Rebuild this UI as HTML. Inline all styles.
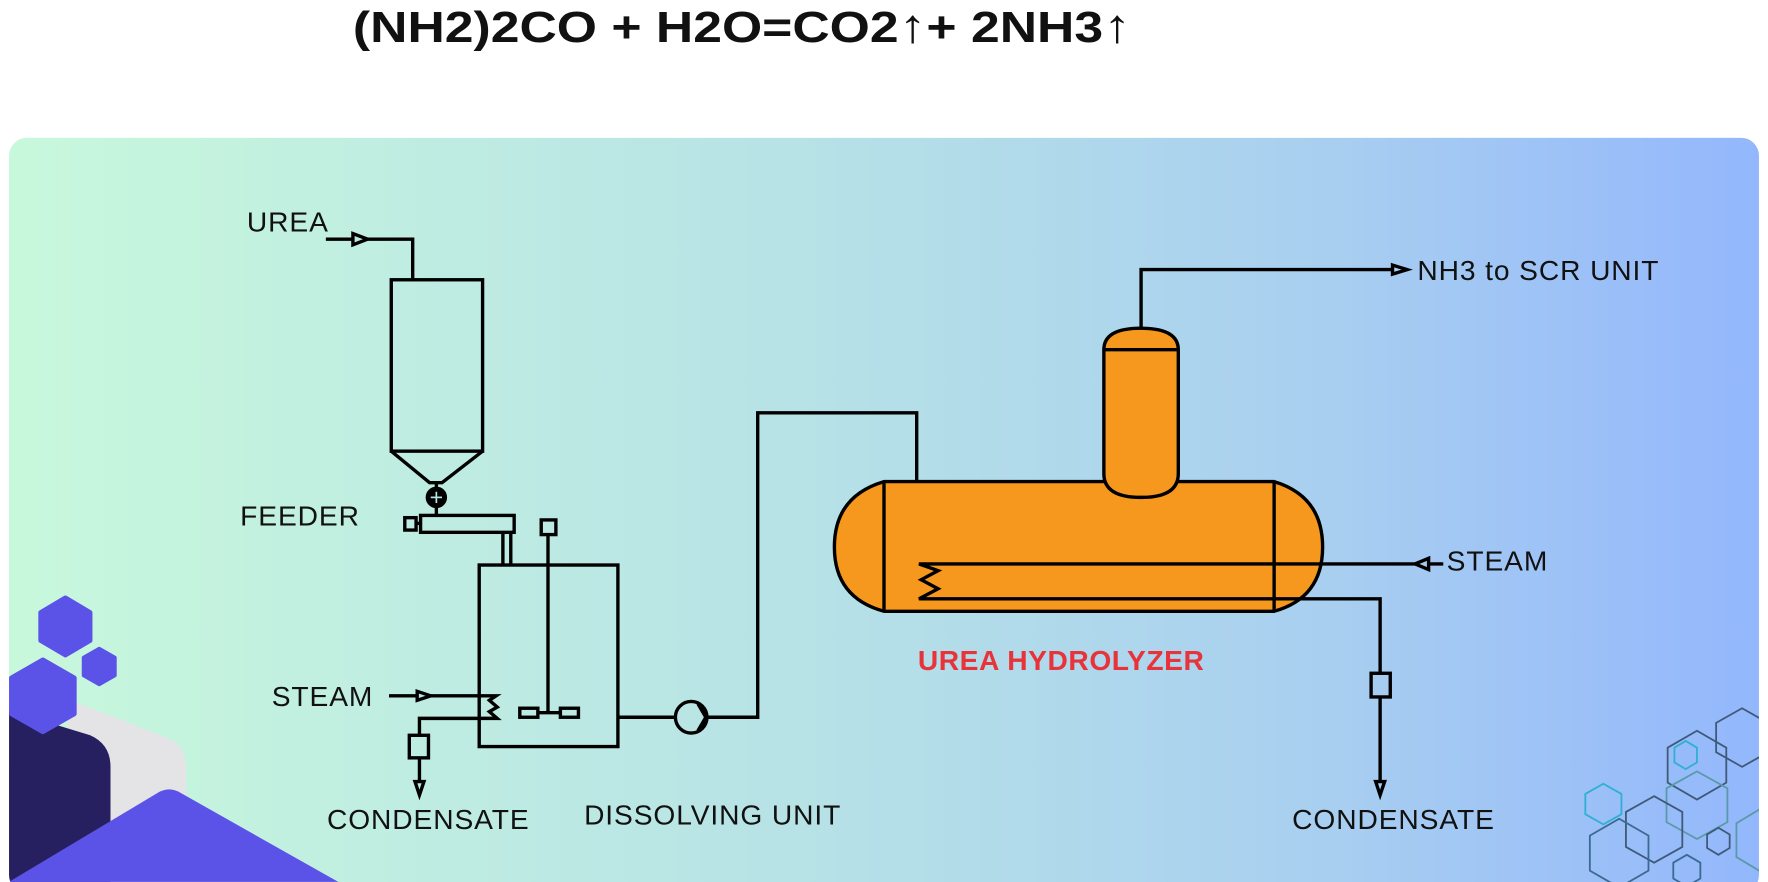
<!DOCTYPE html>
<html><head><meta charset="utf-8"><style>
html,body{margin:0;padding:0;background:#fff;}
svg{display:block;}
text{font-family:"Liberation Sans",sans-serif;}
</style></head><body>
<svg width="1768" height="882" viewBox="0 0 1568 782" xmlns="http://www.w3.org/2000/svg">
<defs>
<linearGradient id="bg" x1="0" x2="1" y1="0" y2="0">
<stop offset="0" stop-color="#c8f8dc"/>
<stop offset="0.45" stop-color="#b7e2e6"/>
<stop offset="0.75" stop-color="#a9cff0"/>
<stop offset="1" stop-color="#93b7fc"/>
</linearGradient>
<clipPath id="pc"><rect x="8" y="122" width="1552" height="670" rx="16"/></clipPath>
</defs>
<rect width="1568" height="782" fill="#fff"/>
<text x="313" y="37" font-size="39" font-weight="bold" fill="#111" textLength="690" lengthAdjust="spacingAndGlyphs">(NH2)2CO + H2O=CO2<tspan font-size="42" font-weight="normal">↑</tspan>+ 2NH3<tspan font-size="42" font-weight="normal">↑</tspan></text>
<g clip-path="url(#pc)">
<rect x="8" y="122" width="1552" height="670" fill="url(#bg)"/>
<path d="M60,620 L150,655 Q165,662 165,680 L165,782 L60,782 Z" fill="#e4e4e6"/>
<path d="M8,630 L80,652 Q98,660 98,680 L98,782 L8,782 Z" fill="#272060"/>
<path d="M8,782 L140,703 Q150,697 160,703 L300,782 Z" fill="#5b52e8"/>
<polygon points="58,530 80,543 80,568 58,581 36,568 36,543" fill="#5b52e8" stroke="#5b52e8" stroke-width="4" stroke-linejoin="round"/>
<polygon points="88,575 102,583 102,599 88,607 74,599 74,583" fill="#5b52e8" stroke="#5b52e8" stroke-width="3" stroke-linejoin="round"/>
<polygon points="38,585 66,601 66,633 38,649 10,633 10,601" fill="#5b52e8" stroke="#5b52e8" stroke-width="4" stroke-linejoin="round"/>
<g fill="none" stroke-width="1.6">
<polygon points="1545,628 1568,641 1568,667 1545,680 1522,667 1522,641" stroke="#3f5a78"/>
<polygon points="1505,648 1531,663 1531,694 1505,709 1479,694 1479,663" stroke="#3f5a78"/>
<polygon points="1495,657 1505,663 1505,676 1495,682 1485,676 1485,663" stroke="#2fb0d0"/>
<polygon points="1505,684 1532,699 1532,729 1505,744 1478,729 1478,699" stroke="#5a9aa8"/>
<polygon points="1422,695 1438,704 1438,722 1422,731 1406,722 1406,704" stroke="#2fb0d0"/>
<polygon points="1467,706 1492,720 1492,751 1467,765 1442,751 1442,720" stroke="#3f5a78"/>
<polygon points="1436,726 1462,741 1462,772 1436,787 1410,772 1410,741" stroke="#3a6a90"/>
<polygon points="1524,734 1534,740 1534,752 1524,758 1514,752 1514,740" stroke="#3f5a78"/>
<polygon points="1496,758 1508,765 1508,779 1496,786 1484,779 1484,765" stroke="#3a6a90"/>
<polygon points="1560,718 1580,730 1580,760 1560,772 1540,760 1540,730" stroke="#5a9aa8"/>
</g>
</g>
<g stroke="#000" stroke-width="3" fill="none" stroke-linejoin="miter">
<polyline points="289,212 366,212 366,248"/>
<polygon points="313,207 326,212 313,217" fill="#b8e6e2"/>
<rect x="347" y="248" width="81" height="152"/>
<polyline points="347,400 381,428 392,428 428,400"/>
<line x1="387" y1="428" x2="387" y2="457"/>
<circle cx="387" cy="441" r="8" fill="#000"/>
<line x1="382" y1="441" x2="392" y2="441" stroke="#b8e6e2" stroke-width="1.5"/>
<line x1="387" y1="436" x2="387" y2="446" stroke="#b8e6e2" stroke-width="1.5"/>
<rect x="373" y="457" width="83" height="15"/>
<rect x="359" y="459" width="10" height="11"/>
<line x1="369" y1="464" x2="373" y2="464"/>
<line x1="446" y1="472" x2="446" y2="501"/>
<line x1="453" y1="472" x2="453" y2="501"/>
<rect x="480" y="461" width="13" height="13"/>
<line x1="486" y1="474" x2="486" y2="632"/>
<rect x="461" y="628" width="16" height="8"/>
<rect x="497" y="628" width="16" height="8"/>
<line x1="477" y1="632" x2="497" y2="632"/>
<rect x="425" y="501" width="123" height="161"/>
<polyline points="345,617 440,617 434,621 441,627 434,631 441,637 372,637 372,652"/>
<polygon points="370,613 382,617 370,621" fill="#b8e6e2"/>
<rect x="363" y="652" width="17" height="20"/>
<line x1="372" y1="672" x2="372" y2="705"/>
<polygon points="368,693 372,705 376,693" fill="#b8e6e2"/>
<line x1="548" y1="636" x2="599" y2="636"/>
<circle cx="613" cy="636" r="14"/>
<line x1="619" y1="624" x2="626" y2="636"/>
<line x1="619" y1="648" x2="626" y2="636"/>
<polyline points="627,636 672,636 672,366 813,366 813,427"/>
<path d="M784,427 L1130,427 Q1173,440 1173,485 Q1173,530 1130,542 L784,542 Q740,530 740,485 Q740,440 784,427 Z" fill="#f7981e"/>
<line x1="784" y1="427" x2="784" y2="542"/>
<line x1="1130" y1="427" x2="1130" y2="542"/>
<path d="M979,310 Q979,291 1012,291 Q1045,291 1045,310 L1045,420 Q1045,441 1012,441 Q979,441 979,420 Z" fill="#f7981e"/>
<line x1="979" y1="310" x2="1045" y2="310"/>
<polyline points="1012,291 1012,239 1248,239"/>
<polygon points="1235,235 1248,239 1235,243" fill="#a9cff0"/>
<polyline points="1280,500 815,500 832,506 817,514 832,522 815,531 1224,531 1224,597"/>
<polygon points="1267,495 1255,500 1267,505" fill="#a6ccf2"/>
<rect x="1216" y="597" width="17" height="21"/>
<line x1="1224" y1="618" x2="1224" y2="705"/>
<polygon points="1220,693 1224,705 1228,693" fill="#a6ccf2"/>
</g>
<g font-size="25" fill="#111" letter-spacing="0.8">
<text x="219" y="205">UREA</text>
<text x="213" y="466">FEEDER</text>
<text x="241" y="626">STEAM</text>
<text x="290" y="735">CONDENSATE</text>
<text x="518" y="731">DISSOLVING UNIT</text>
<text x="1257" y="248">NH3 to SCR UNIT</text>
<text x="1283" y="506">STEAM</text>
<text x="1146" y="735">CONDENSATE</text>
</g>
<text x="814" y="594" font-size="25" font-weight="bold" fill="#e8333a" letter-spacing="0.5">UREA HYDROLYZER</text>
</svg>
</body></html>
